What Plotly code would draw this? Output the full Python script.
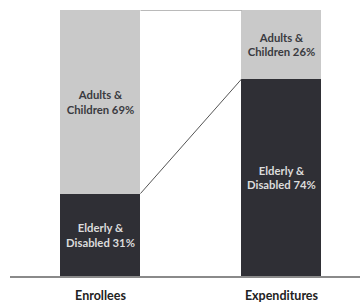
import plotly.graph_objects as go

categories = ["Enrollees", "Expenditures"]
elderly_disabled = [31, 74]
adults_children = [69, 26]

x_pos = list(range(len(categories)))
bar_w = 0.442

dark_text = [f"Elderly &<br>Disabled {v}%" for v in elderly_disabled]
light_text = [f"Adults &<br>Children {v}%" for v in adults_children]

fig = go.Figure()
fig.add_trace(go.Bar(
    x=x_pos, y=elderly_disabled, width=bar_w,
    marker=dict(color="#2f2f35", line=dict(width=0)),
    text=dark_text, textposition="inside", insidetextanchor="middle",
    textangle=0, textfont=dict(family="Lato", size=11.3, color="#dcdcdc", weight="bold"),
    hoverinfo="skip",
))
fig.add_trace(go.Bar(
    x=x_pos, y=adults_children, width=bar_w,
    marker=dict(color="#c9c9c9", line=dict(width=0)),
    text=light_text, textposition="inside", insidetextanchor="middle",
    textangle=0, textfont=dict(family="Lato", size=11.3, color="#3a3a40", weight="bold"),
    hoverinfo="skip",
))

# connector lines between the bars
tops = [e + a for e, a in zip(elderly_disabled, adults_children)]
fig.add_trace(go.Scatter(
    x=[x_pos[0] + bar_w / 2, x_pos[1] - bar_w / 2],
    y=[elderly_disabled[0], elderly_disabled[1]],
    mode="lines", line=dict(color="#555555", width=1), hoverinfo="skip",
))
fig.add_trace(go.Scatter(
    x=[x_pos[0] + bar_w / 2, x_pos[1] - bar_w / 2],
    y=[tops[0], tops[1]],
    mode="lines", line=dict(color="#777777", width=1), hoverinfo="skip",
))

fig.update_layout(
    barmode="stack",
    width=360, height=303,
    margin=dict(l=10, r=0, t=10, b=27),
    paper_bgcolor="white", plot_bgcolor="white",
    showlegend=False,
    uniformtext=dict(minsize=8, mode="show"),
    xaxis=dict(
        range=[-0.5, 1.434],
        tickmode="array", tickvals=x_pos, ticktext=categories,
        showgrid=False, zeroline=False,
        showline=True, linecolor="#8a8a8a", linewidth=1.5,
        ticks="", ticklabelstandoff=7,
        tickfont=dict(family="Lato", size=12.5, color="#222222", weight="bold"),
    ),
    yaxis=dict(
        range=[0, 100], visible=False, showgrid=False, zeroline=False,
    ),
)

fig.write_html("out.html", config={"displayModeBar": False},
               post_script="document.body.style.margin='0';")
